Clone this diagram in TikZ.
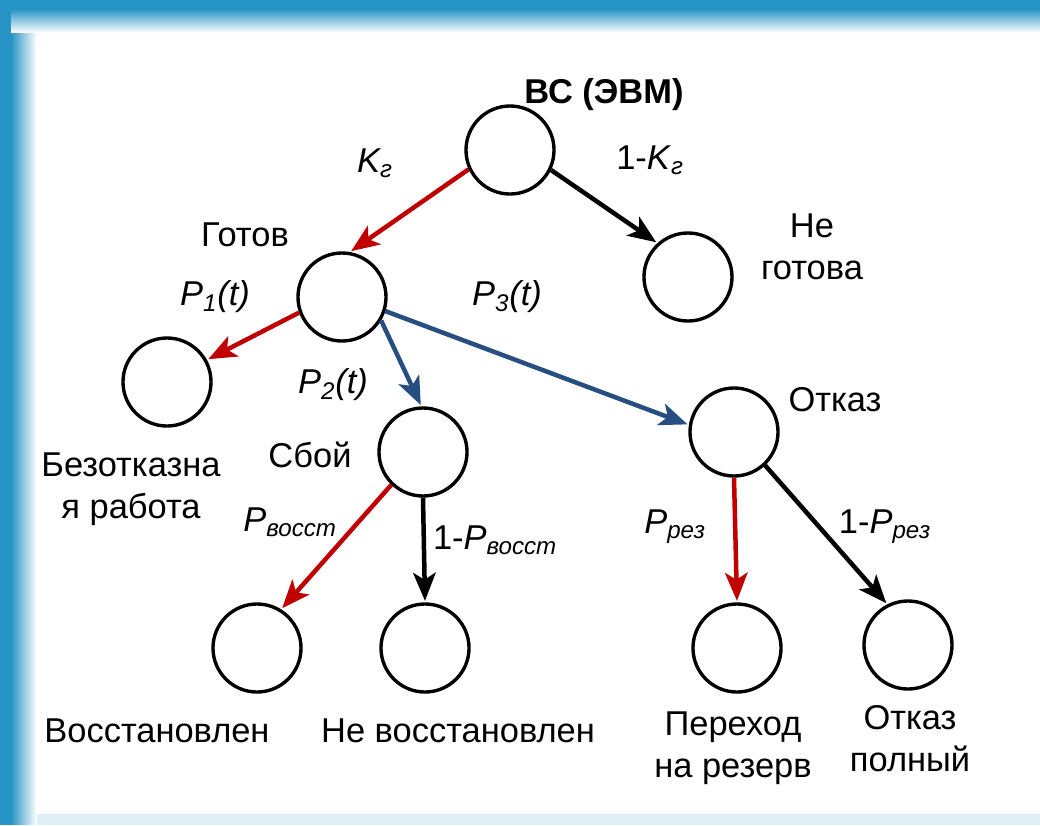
\documentclass[tikz,border=0pt]{standalone}
\usepackage{fontspec}
\setmainfont{Liberation Sans}
\usetikzlibrary{arrows.meta}

\definecolor{frameblue}{RGB}{38,148,196}
\definecolor{edgered}{RGB}{192,0,0}
\definecolor{edgeblue}{RGB}{38,78,128}
\newcommand{\lsub}[1]{\textsubscript{\itshape #1}}

\begin{document}
\begin{tikzpicture}[x=0.025cm,y=-0.025cm,>={Stealth[length=20pt,width=16pt,inset=5pt]}]
    \tikzstyle{state}=[circle,draw=black,line width=2.4pt,minimum size=2.2cm,inner sep=0pt]
    \tikzstyle{annot}=[font=\fontsize{24.5}{30}\selectfont,align=center,inner sep=1pt]
    \tikzstyle{prob}=[annot,font=\fontsize{24.5}{30}\selectfont\itshape]
    \tikzstyle{branch}=[->,line width=3.2pt,shorten >=1pt]

    % Frame of the slide
    \useasboundingbox (0,0) rectangle (1040,825);
    \fill[white] (0,0) rectangle (1040,825);
    \fill[frameblue!15] (14,814) rectangle (1040,825);
    \fill[frameblue] (0,0) rectangle (1040,9);
    \foreach \i in {0,...,23} {
        \pgfmathtruncatemacro{\pct}{100-4.2*\i}
        \fill[frameblue!\pct!white] (0,9+\i) rectangle (1040,10.2+\i);
    }
    \fill[frameblue] (0,0) rectangle (11,825);
    \foreach \i in {0,...,25} {
        \pgfmathtruncatemacro{\pct}{100-3.9*\i}
        \fill[frameblue!\pct!white] (11+\i,33) rectangle (12.2+\i,825);
    }

    % Draw the states
    \node[state] (root) at (510,150) {};
    \node[state] (gotov) at (342,297) {};
    \node[state] (negotova) at (688,277) {};
    \node[state] (bezotkaz) at (167,382) {};
    \node[state] (sboy) at (423,452) {};
    \node[state] (otkaz) at (734,432) {};
    \node[state] (vosst) at (257,648) {};
    \node[state] (nevosst) at (425,648) {};
    \node[state] (perehod) at (737,648) {};
    \node[state] (polny) at (908,645) {};

    % Connect the states
    \path (root.205) edge[branch,edgered] (gotov.80);
    \path (root.-26) edge[branch,black] (negotova.132);
    \path (gotov.200) edge[branch,edgered] (bezotkaz.29);
    \path (gotov.-31) edge[branch,edgeblue] (sboy.92);
    \path (gotov.-18) edge[branch,edgeblue] (otkaz.171);
    \path (sboy.226) edge[branch,edgered] (vosst.58);
    \path (sboy.south) edge[branch,black] (nevosst.north);
    \path (otkaz.south) edge[branch,edgered] (perehod.north);
    \path (otkaz.-47) edge[branch,black] (polny.117);

    % Annotate the states
    \node[annot,font=\fontsize{24.5}{30}\selectfont\bfseries] (l-root) at (604,95) {ВС (ЭВМ)};
    \node[annot] (l-gotov) at (245,235) {Готов};
    \node[annot] (l-negotova) at (812,247) {Не\\готова};
    \node[annot] (l-bezotkaz) at (131,489) {Безотказна\\я работа};
    \node[annot] (l-sboy) at (310,455) {Сбой};
    \node[annot] (l-otkaz) at (835,400) {Отказ};
    \node[annot] (l-vosst) at (157,731) {Восстановлен};
    \node[annot] (l-nevosst) at (458,731) {Не восстановлен};
    \node[annot] (l-perehod) at (733,748) {Переход\\на резерв};
    \node[annot] (l-polny) at (910,739) {Отказ\\полный};

    % Annotate the branches
    \node[prob] (p-kg) at (375,163) {K\lsub{г}};
    \node[annot] (p-nkg) at (650,160) {1-\textit{K}\lsub{г}};
    \node[prob] (p-1) at (215,297) {P\lsub{1}(t)};
    \node[prob] (p-3) at (507,297) {P\lsub{3}(t)};
    \node[prob] (p-2) at (333,385) {P\lsub{2}(t)};
    \node[prob] (p-vosst) at (290,522) {P\lsub{восст}};
    \node[annot] (p-nvosst) at (495,540) {1-\textit{P}\lsub{восст}};
    \node[prob] (p-rez) at (675,527) {P\lsub{рез}};
    \node[annot] (p-nrez) at (885,527) {1-\textit{P}\lsub{рез}};
\end{tikzpicture}
\end{document}
